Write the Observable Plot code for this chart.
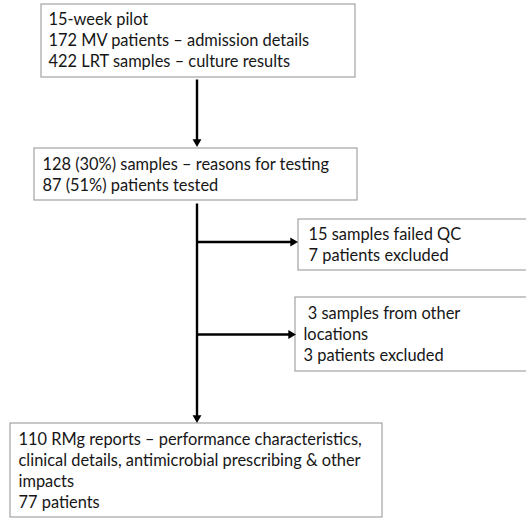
<!DOCTYPE html>
<html>
<head>
<meta charset="utf-8">
<script src="https://cdn.jsdelivr.net/npm/d3@7"></script>
<script src="https://cdn.jsdelivr.net/npm/@observablehq/plot@0.6"></script>
<style>
  html, body { margin: 0; padding: 0; background: #fff; }
  #chart svg { display: block; }
</style>
</head>
<body>
<div id="chart"></div>
<script>
// Flowchart content
const boxIds = ["pilot", "tested", "failedQC", "otherLoc", "reports"];
const boxLines = [
  ["15-week pilot", "172 MV patients – admission details", "422 LRT samples – culture results"],
  ["128 (30%) samples – reasons for testing", "87 (51%) patients tested"],
  ["15 samples failed QC", "7 patients excluded"],
  ["\u00a03 samples from other", "locations", "3 patients excluded"],
  ["110 RMg reports – performance characteristics,", "clinical details, antimicrobial prescribing & other", "impacts", "77 patients"]
];

// Layout (pixel space of the drawing)
const boxX1 = [41, 34, 298, 295, 10];
const boxX2 = [355, 357, 530, 530, 382];
const boxY1 = [4, 148, 219, 297, 423];
const boxY2 = [77, 200, 270, 371, 517];
const textX = [48, 42, 308, 303, 18];
const textLastBaseline = [66, 190, 260, 360, 507];

// Connectors: [x1, y1, x2, y2]; arrowheads at the end
const linkX1 = [196.5, 196.5, 196.5, 196.5];
const linkY1 = [79, 203, 241.5, 334];
const linkX2 = [196.5, 196.5, 297, 295];
const linkY2 = [146, 422, 241.5, 334];

const boxes = boxIds.map((id, i) => ({
  id, x1: boxX1[i], x2: boxX2[i], y1: boxY1[i], y2: boxY2[i],
  tx: textX[i], ty: textLastBaseline[i], text: boxLines[i].join("\n")
}));

const headLen = 7.5;
const links = linkX1.map((_, i) => {
  const dx = linkX2[i] - linkX1[i], dy = linkY2[i] - linkY1[i];
  const L = Math.hypot(dx, dy), ux = dx / L, uy = dy / L;
  return {
    x1: linkX1[i], y1: linkY1[i],
    x2: linkX2[i] - ux * headLen * 0.8, y2: linkY2[i] - uy * headLen * 0.8,
    hx: linkX2[i] - ux * headLen * 0.62, hy: linkY2[i] - uy * headLen * 0.62,
    rot: Math.atan2(uy, ux) * 180 / Math.PI + 90
  };
});

const chart = Plot.plot({
  width: 526,
  height: 519,
  margin: 0,
  style: { fontFamily: "Lato, 'Open Sans', sans-serif", background: "#fff", overflow: "hidden" },
  x: { type: "linear", domain: [0, 526], range: [0, 526], axis: null },
  y: { type: "linear", domain: [0, 519], range: [0, 519], axis: null },
  marks: [
    Plot.rect(boxes, { x1: "x1", x2: "x2", y1: "y1", y2: "y2", fill: "#ffffff", stroke: "#a3a3a3", strokeWidth: 1.2 }),
    Plot.link(links, { x1: "x1", y1: "y1", x2: "x2", y2: "y2", stroke: "#000", strokeWidth: 2.4 }),
    Plot.dot(links, { x: "hx", y: "hy", symbol: "triangle", r: 3.3, rotate: "rot", fill: "#000", stroke: "none" }),
    Plot.text(boxes, {
      x: "tx", y: "ty", text: "text", textAnchor: "start", lineAnchor: "bottom",
      lineHeight: 1.28, fontSize: 16.4, fill: "#161616"
    })
  ]
});

document.getElementById("chart").appendChild(chart);
</script>
</body>
</html>
